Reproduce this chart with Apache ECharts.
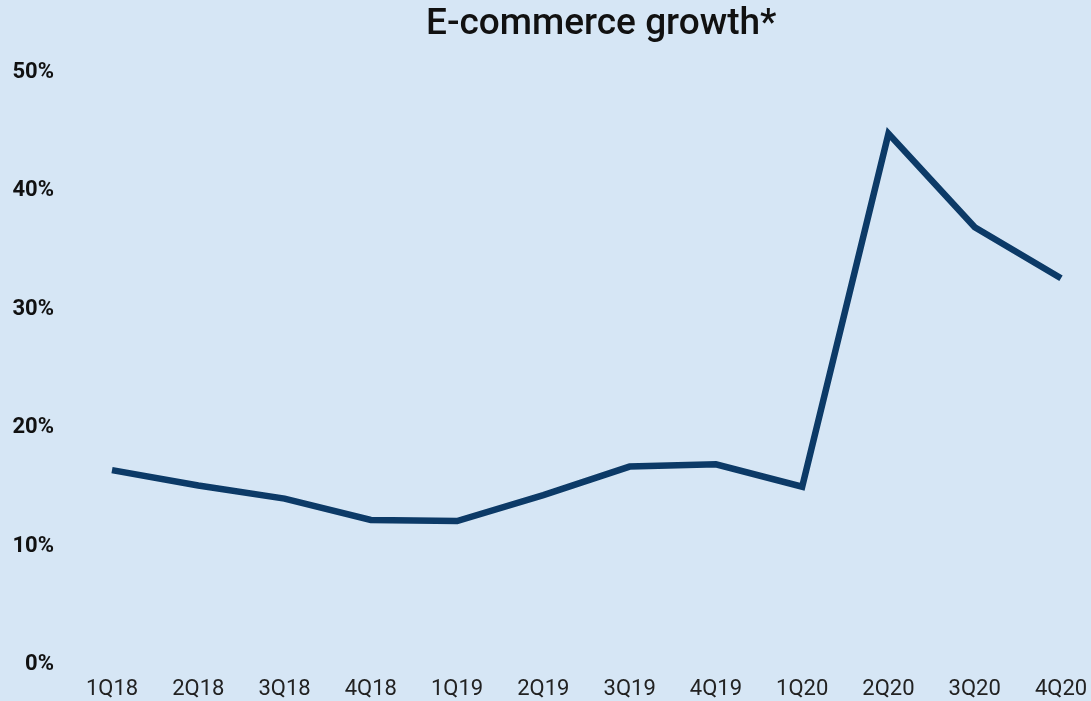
<!DOCTYPE html>
<html>
<head>
<meta charset="utf-8">
<script src="https://cdn.jsdelivr.net/npm/echarts@6/dist/echarts.min.js"></script>
<style>
  html, body { margin: 0; padding: 0; background: #d6e6f5; }
  #chart { width: 1091px; height: 701px; }
</style>
</head>
<body>
<div id="chart"></div>
<script>
// Quarterly e-commerce growth, year over year (%)
const quarters = ['1Q18', '2Q18', '3Q18', '4Q18', '1Q19', '2Q19', '3Q19', '4Q19', '1Q20', '2Q20', '3Q20', '4Q20'];
const growth = [16.4, 15.1, 14.0, 12.2, 12.1, 14.3, 16.7, 16.9, 15.0, 44.8, 36.9, 32.6];
const yTicks = [0, 10, 20, 30, 40, 50];

const chart = echarts.init(document.getElementById('chart'), null, { renderer: 'canvas' });
chart.setOption({
  backgroundColor: '#d6e6f5',
  animation: false,
  title: {
    text: 'E-commerce growth*',
    left: 426,
    top: 6,
    padding: 0,
    textStyle: { fontFamily: 'Roboto', fontSize: 37, fontWeight: 500, color: '#111111' }
  },
  grid: { left: 112, right: 30, top: 72, bottom: 36.5, containLabel: false },
  xAxis: {
    type: 'category',
    data: quarters,
    boundaryGap: false,
    axisLine: { show: false },
    axisTick: { show: false },
    splitLine: { show: false },
    axisLabel: { margin: 14, fontFamily: 'Roboto', fontSize: 22, color: '#222222', interval: 0 }
  },
  yAxis: {
    type: 'value',
    min: yTicks[0],
    max: yTicks[yTicks.length - 1],
    interval: 10,
    axisLine: { show: false },
    axisTick: { show: false },
    splitLine: { show: false },
    axisLabel: {
      margin: 58,
      fontFamily: 'Roboto',
      fontSize: 22,
      fontWeight: 'bold',
      color: '#111111',
      formatter: v => v + '%'
    }
  },
  series: [{
    type: 'line',
    data: growth,
    symbol: 'none',
    lineStyle: { color: '#0c3a67', width: 6.5, join: 'miter' }
  }]
});
</script>
</body>
</html>
